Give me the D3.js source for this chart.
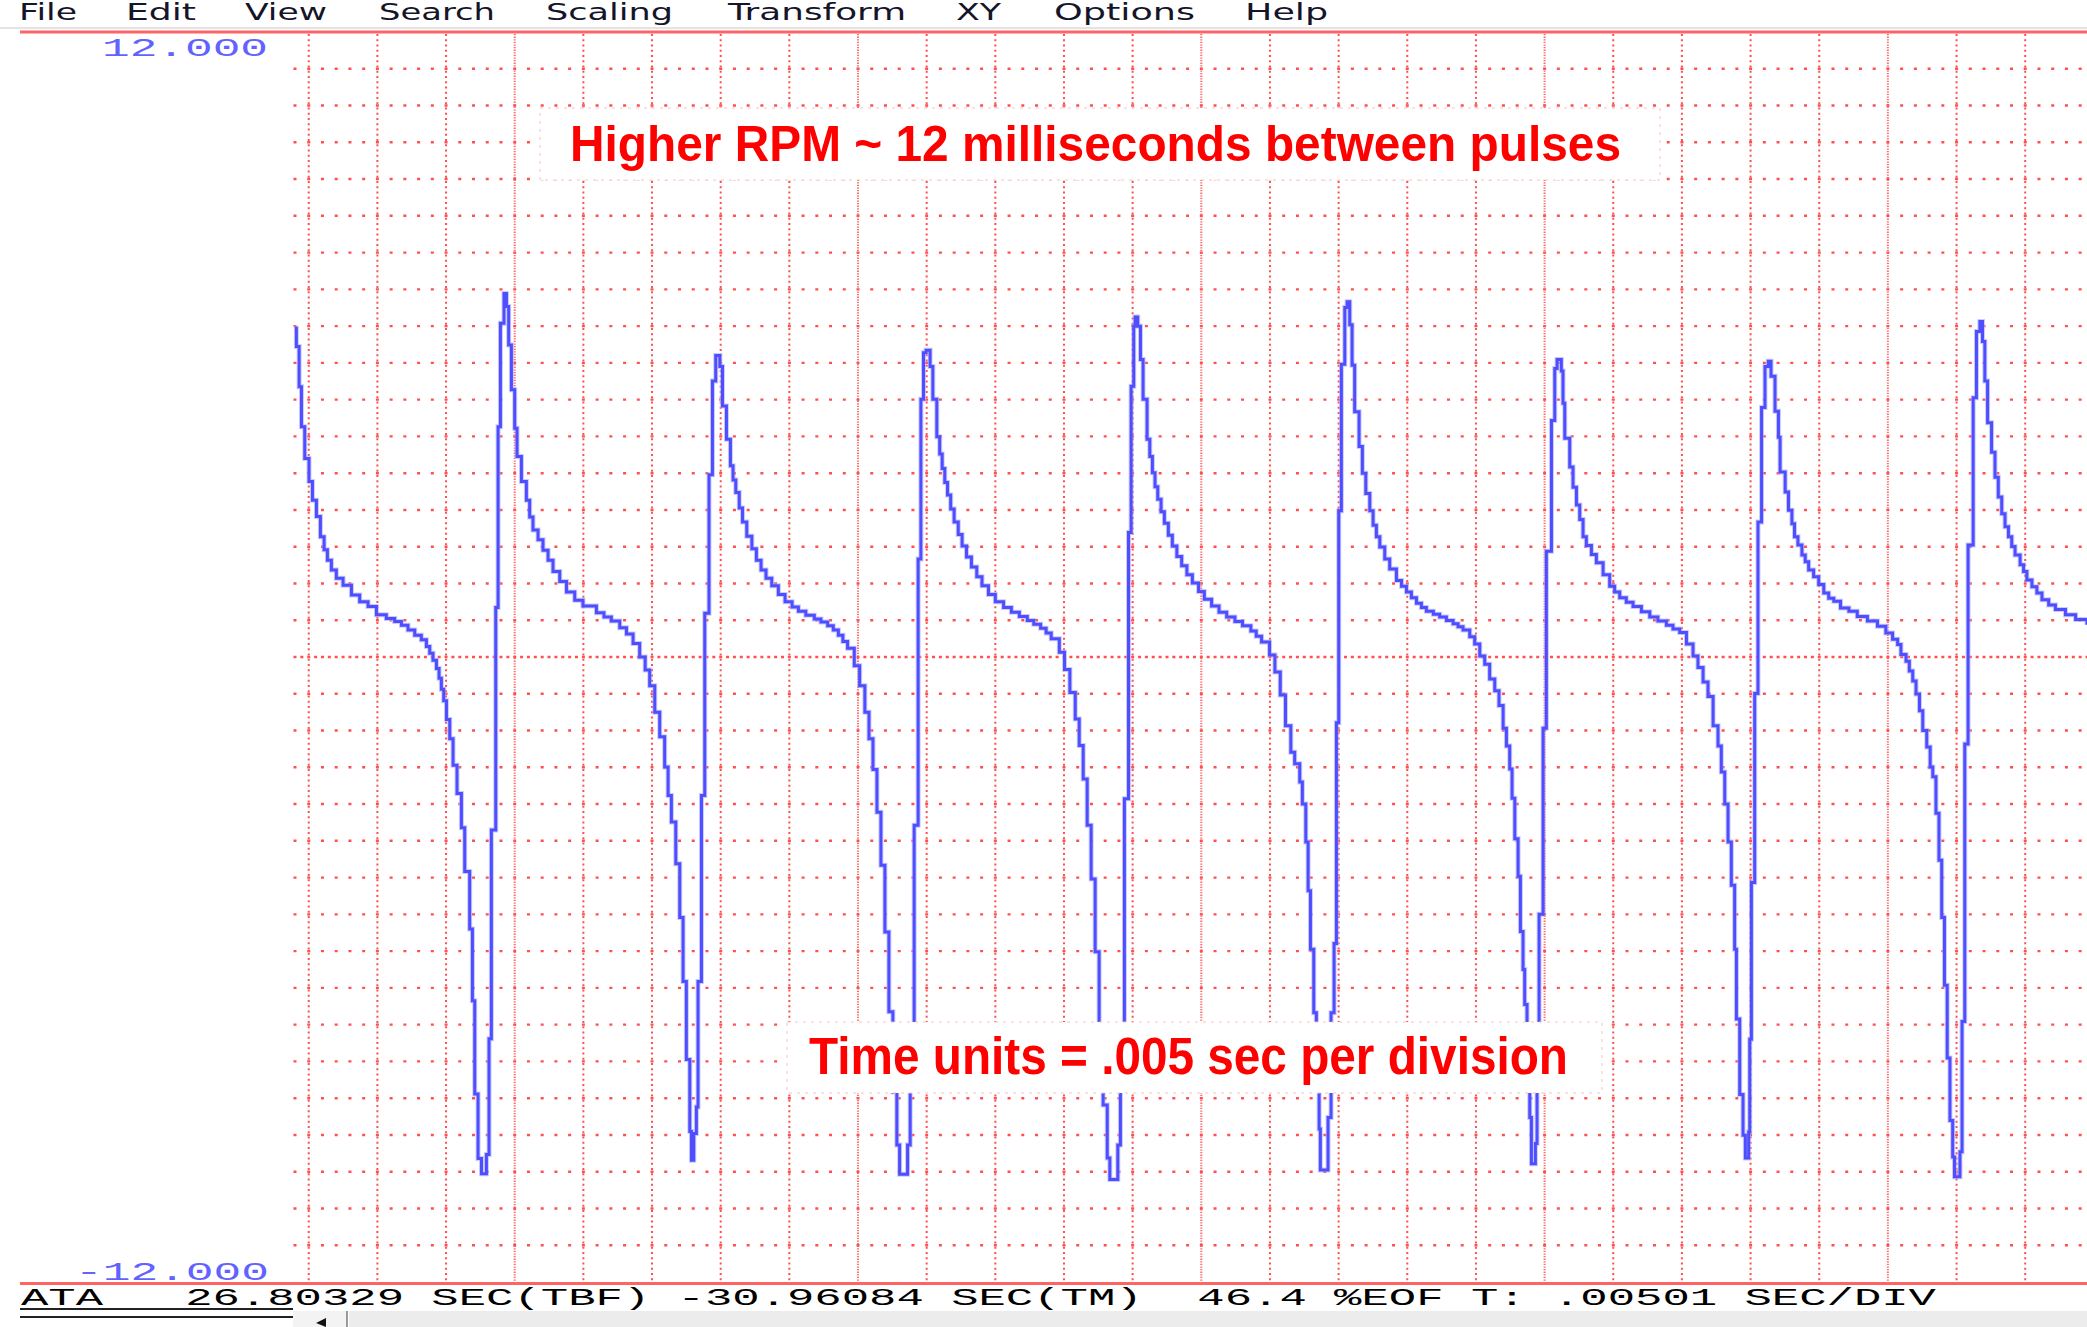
<!DOCTYPE html>
<html><head><meta charset="utf-8">
<script src="https://cdn.jsdelivr.net/npm/d3@7"></script>
<style>
html,body{margin:0;padding:0;background:#fff;overflow:hidden}
svg{display:block}
text{white-space:pre}
</style></head><body>
<svg id="chart" width="2087" height="1327"></svg>
<script>
// ---------------- data ----------------
const menuItems = ["File","Edit","View","Search","Scaling","Transform","XY","Options","Help"];
const yTickLabels = ["12.000","-12.000"];
const yTickValues = [12, -12];
const statusLine = "ATA   26.80329 SEC(TBF) -30.96084 SEC(TM)  46.4 %EOF T: .00501 SEC/DIV";
const annotations = ["Higher RPM ~ 12 milliseconds between pulses","Time units = .005 sec per division"];
const timeDomainMs = [9, 139.5];
const voltDomain = [-12, 12];
const gridStepMs = 5, majorEveryMs = 25, voltDivisions = 34;

// waveform samples (time in ms, volts)
const timeMs = [
 8.98,9.10,9.30,9.47,9.71,10.02,10.27,10.56,10.85,11.12,11.36,11.65,12.01,12.50,13.11,13.71,14.32,14.93,15.65,16.26,16.75,17.23,17.72,18.20,18.57,18.81,19.05,19.30,19.49,19.66,19.83,20.03,20.27,20.51,20.80,21.12,21.36,21.72,21.92,22.09,22.33,22.58,22.94,23.13,23.30,23.62,23.79,23.96,24.22,
 24.40,24.56,24.76,25.00,25.17,25.49,25.85,26.09,26.33,26.70,27.06,27.43,27.79,28.28,28.77,29.37,29.97,30.95,31.50,32.04,32.65,33.14,33.62,34.10,34.50,34.83,35.20,35.56,35.92,36.17,36.41,36.73,37.02,37.26,37.50,37.75,37.87,38.04,38.23,38.35,38.60,38.84,39.15,39.40,39.64,
 39.94,40.13,40.42,40.71,40.90,41.10,41.35,41.59,41.90,42.27,42.60,42.94,43.30,43.72,44.20,44.69,45.20,45.66,46.20,46.82,47.30,47.79,48.20,48.57,48.90,49.24,49.73,50.12,50.50,50.80,51.09,51.38,51.67,51.96,52.25,52.54,52.83,53.03,53.61,53.80,54.09,54.38,54.58,54.77,54.96,
 55.25,55.45,55.74,55.95,56.13,56.32,56.52,56.75,57.00,57.30,57.58,57.90,58.26,58.65,59.03,59.50,60.00,60.60,61.17,61.75,62.33,62.80,63.30,63.70,64.07,64.66,65.04,65.43,65.82,66.11,66.40,66.69,66.98,67.27,67.56,67.85,68.15,68.34,68.92,69.11,69.40,69.70,69.89,70.08,70.18,
 70.37,70.57,70.76,71.05,71.25,71.44,71.63,71.83,72.07,72.31,72.60,72.89,73.22,73.57,73.95,74.35,74.80,75.22,75.75,76.29,76.85,77.45,78.00,78.61,79.00,79.39,79.97,80.36,80.75,81.13,81.52,81.80,82.17,82.36,82.61,82.78,82.95,83.19,83.38,83.58,83.67,84.23,84.45,84.67,84.84,85.01,85.20,85.45,85.62,
 85.81,85.98,86.17,86.49,86.73,86.98,87.27,87.51,87.75,88.00,88.36,88.72,89.21,89.58,89.94,90.30,90.67,91.03,91.39,91.90,92.36,92.85,93.34,93.70,94.06,94.55,94.91,95.28,95.64,96.00,96.37,96.68,96.98,97.22,97.46,97.63,97.83,98.07,98.24,98.43,98.55,98.72,98.92,99.04,99.33,99.45,99.60,99.89,100.13,100.50,100.74,100.91,
 101.22,101.34,101.47,101.83,102.07,102.32,102.56,102.80,103.04,103.41,103.77,104.26,104.74,105.10,105.47,105.95,106.44,107.05,107.66,108.25,108.87,109.35,109.84,110.33,110.81,111.17,111.54,111.90,112.27,112.63,112.87,113.12,113.36,113.60,113.84,113.97,114.21,114.45,114.62,114.86,114.94,115.06,115.30,115.54,115.80,116.05,116.29,
 116.49,116.78,117.03,117.15,117.52,117.76,118.01,118.20,118.45,118.74,118.98,119.23,119.59,119.96,120.33,120.69,121.06,121.55,122.16,122.77,123.51,124.24,124.85,125.34,125.71,125.95,126.32,126.56,126.81,127.05,127.30,127.54,127.83,128.08,128.27,128.50,128.72,128.92,129.12,129.32,129.52,129.72,129.85,130.25,130.40,130.60,130.84,131.21,131.45,131.70,
 131.89,132.06,132.26,132.55,132.80,133.04,133.29,133.53,133.78,134.02,134.26,134.63,134.88,135.12,135.49,135.85,136.22,136.71,137.20,137.93,138.67,139.50
];
const volts = [
 6.31,5.96,5.19,4.42,3.81,3.37,3.01,2.70,2.31,2.06,1.86,1.67,1.51,1.38,1.19,1.06,0.97,0.81,0.74,0.68,0.61,0.52,0.42,0.33,0.20,0.07,-0.06,-0.22,-0.41,-0.62,-0.84,-1.20,-1.57,-2.08,-2.62,-3.28,-4.12,-5.22,-6.60,-8.39,-9.63,-9.92,-9.55,-7.33,-3.32,0.95,4.42,6.41,6.98,
 6.73,5.99,5.13,4.39,3.85,3.37,3.01,2.69,2.44,2.25,2.05,1.86,1.64,1.45,1.25,1.09,0.98,0.85,0.77,0.69,0.56,0.44,0.26,0.00,-0.25,-0.55,-1.06,-1.53,-2.11,-2.66,-3.17,-3.97,-5.00,-6.23,-7.73,-9.11,-9.66,-9.15,-8.64,-6.23,-2.66,0.84,3.50,5.30,5.79,
 5.58,4.82,4.18,3.67,3.40,3.16,2.86,2.59,2.32,2.08,1.86,1.67,1.51,1.37,1.20,1.06,0.96,0.88,0.80,0.73,0.67,0.60,0.52,0.42,0.30,0.17,-0.17,-0.55,-1.06,-1.57,-2.16,-2.98,-4.00,-5.28,-6.81,-8.35,-9.37,-9.93,-9.37,-7.32,-3.23,1.88,4.95,5.84,5.89,
 5.58,4.95,4.23,3.90,3.62,3.35,3.11,2.84,2.59,2.35,2.13,1.92,1.73,1.54,1.37,1.20,1.06,0.95,0.86,0.78,0.70,0.63,0.55,0.46,0.35,0.09,-0.24,-0.68,-1.19,-1.70,-2.34,-3.23,-4.26,-5.66,-7.07,-8.60,-9.62,-10.03,-9.37,-7.32,-2.72,2.39,5.20,6.35,6.53,
 6.35,5.71,4.95,4.18,3.85,3.54,3.27,3.03,2.79,2.57,2.34,2.13,1.93,1.75,1.58,1.42,1.26,1.11,0.98,0.86,0.77,0.68,0.60,0.50,0.40,0.29,0.04,-0.29,-0.73,-1.32,-1.83,-2.05,-2.40,-2.82,-3.55,-4.49,-5.61,-6.83,-8.28,-9.06,-9.85,-8.84,-6.83,-5.50,-1.26,2.81,5.62,6.71,6.82,
 6.38,5.60,4.71,4.04,3.53,3.14,2.81,2.53,2.31,2.11,1.88,1.69,1.47,1.36,1.25,1.14,1.03,0.95,0.88,0.82,0.77,0.70,0.64,0.58,0.52,0.39,0.25,0.02,-0.14,-0.42,-0.65,-0.93,-1.37,-1.71,-2.15,-2.71,-3.49,-4.21,-5.27,-6.00,-6.67,-7.62,-8.84,-9.73,-9.34,-8.17,-4.94,-1.37,2.03,4.54,5.54,5.71,
 5.49,4.87,4.20,3.65,3.26,2.92,2.64,2.31,2.14,1.97,1.81,1.58,1.36,1.25,1.14,1.05,0.97,0.87,0.77,0.69,0.61,0.54,0.47,0.25,0.02,-0.20,-0.48,-0.76,-1.32,-1.71,-2.21,-2.82,-3.55,-4.38,-5.61,-6.95,-8.40,-9.18,-9.62,-9.12,-7.34,-4.33,-0.70,2.59,4.79,5.58,5.68,
 5.39,4.72,4.22,3.55,3.17,2.82,2.56,2.31,2.15,1.96,1.83,1.67,1.54,1.39,1.23,1.13,1.07,0.94,0.88,0.78,0.69,0.59,0.46,0.34,0.24,0.05,-0.08,-0.27,-0.46,-0.71,-1.03,-1.41,-1.73,-2.11,-2.30,-3.00,-3.90,-5.00,-6.30,-7.70,-8.90,-9.60,-9.98,-9.50,-7.00,-1.67,2.15,4.98,6.25,6.44,
 6.06,5.30,4.50,3.93,3.45,3.07,2.75,2.50,2.31,2.12,1.96,1.77,1.64,1.48,1.35,1.23,1.10,1.00,0.91,0.81,0.72,0.62
];

// ---------------- layout ----------------
const W = 2087, H = 1327;
const plotLeft = 295, plotRight = 2087, plotTop = 32, plotBottom = 1282;
const menuLayout = [[19,58],[126,70],[245,82],[379,116],[546,127],[728,178],[956,45],[1054,141],[1245,83]];

const svg = d3.select("#chart");
svg.append("rect").attr("width", W).attr("height", H).attr("fill", "#fff");

const x = d3.scaleLinear().domain(timeDomainMs).range([plotLeft, plotRight]);
const y = d3.scaleLinear().domain(voltDomain).range([plotBottom, plotTop]);

// menu bar
const menu = svg.append("g");
menuItems.forEach((m, i) => {
  menu.append("text").attr("x", menuLayout[i][0]).attr("y", 20)
    .attr("textLength", menuLayout[i][1]).attr("lengthAdjust", "spacingAndGlyphs")
    .attr("font-family", "'DejaVu Sans', 'Noto Sans', sans-serif").attr("font-size", 23)
    .attr("fill", "#15152a").text(m);
});
svg.append("rect").attr("x", 0).attr("y", 27).attr("width", W).attr("height", 2).attr("fill", "#e4e4e4");

// grid
const grid = svg.append("g");
const vTicks = d3.range(10, timeDomainMs[1], gridStepMs);
grid.selectAll("line.v").data(vTicks).join("line")
  .attr("x1", d => x(d)).attr("x2", d => x(d))
  .attr("y1", y(12) + 2).attr("y2", y(-12))
  .attr("stroke", d => d % majorEveryMs === 0 ? "#ff6a6a" : "#ff5050")
  .attr("stroke-width", 2)
  .attr("stroke-dasharray", d => d % majorEveryMs === 0 ? "1.3 1.3" : "2 3.25");

const hLevels = d3.range(1, voltDivisions).map(j => voltDomain[1] - j * (voltDomain[1] - voltDomain[0]) / voltDivisions);
grid.selectAll("line.h").data(hLevels).join("line")
  .attr("x1", x(9) - 1.5).attr("x2", plotRight)
  .attr("y1", d => y(d)).attr("y2", d => y(d))
  .attr("stroke", "#ff5050").attr("stroke-width", 2.4)
  .attr("stroke-dasharray", d => Math.abs(d) < 1e-6 ? "3 3.866" : "3 10.732");

// top / bottom borders
svg.append("line").attr("x1", 20).attr("x2", W).attr("y1", y(12)).attr("y2", y(12))
  .attr("stroke", "#ff6464").attr("stroke-width", 3);
svg.append("line").attr("x1", 20).attr("x2", W).attr("y1", y(-12) + 1.5).attr("y2", y(-12) + 1.5)
  .attr("stroke", "#ff6464").attr("stroke-width", 3);

// y labels
const monoFont = "'Liberation Mono', 'DejaVu Sans Mono', monospace";
svg.append("text").attr("x", 102).attr("y", y(yTickValues[0]) + 24)
  .attr("textLength", 166).attr("lengthAdjust", "spacingAndGlyphs")
  .attr("font-family", monoFont).attr("font-size", 25).attr("fill", "#6262ff").text(yTickLabels[0]);
svg.append("text").attr("x", 75).attr("y", y(yTickValues[1]) - 2)
  .attr("textLength", 194).attr("lengthAdjust", "spacingAndGlyphs")
  .attr("font-family", monoFont).attr("font-size", 25).attr("fill", "#6262ff").text(yTickLabels[1]);

// waveform
const pts = timeMs.map((t, i) => [t, volts[i]]);
const line = d3.line().x(d => x(d[0])).y(d => y(d[1])).curve(d3.curveStepAfter);
svg.append("path").datum(pts).attr("d", line)
  .attr("fill", "none").attr("stroke", "#a8a8ff").attr("stroke-width", 5)
  .attr("stroke-linejoin", "miter").attr("opacity", 0.6);
svg.append("path").datum(pts).attr("d", line)
  .attr("fill", "none").attr("stroke", "#4e4eff").attr("stroke-width", 3)
  .attr("stroke-linejoin", "miter");

// annotation boxes
const boxes = [
  {x: 540, y: 108, w: 1120, h: 72, tx: 570, ty: 161, tl: 1051, fs: 50},
  {x: 787, y: 1022, w: 815, h: 71, tx: 809, ty: 1074, tl: 759, fs: 51}
];
boxes.forEach((b, i) => {
  svg.append("rect").attr("x", b.x).attr("y", b.y).attr("width", b.w).attr("height", b.h)
    .attr("fill", "#fff").attr("stroke", "#f4c4c4").attr("stroke-width", 1).attr("stroke-dasharray", "3 5");
  svg.append("text").attr("x", b.tx).attr("y", b.ty)
    .attr("textLength", b.tl).attr("lengthAdjust", "spacingAndGlyphs")
    .attr("font-family", "'Liberation Sans', Arial, sans-serif").attr("font-weight", "bold")
    .attr("font-size", b.fs).attr("fill", "#ff0000").text(annotations[i]);
});

// status line
svg.append("text").attr("x", 21).attr("y", 1305)
  .attr("textLength", 1915).attr("lengthAdjust", "spacingAndGlyphs")
  .attr("font-family", monoFont).attr("font-size", 23).attr("fill", "#000").text(statusLine);

// scrollbar remnants
svg.append("line").attr("x1", 20).attr("x2", 293).attr("y1", 1309).attr("y2", 1309).attr("stroke", "#222").attr("stroke-width", 2);
svg.append("line").attr("x1", 20).attr("x2", 293).attr("y1", 1317).attr("y2", 1317).attr("stroke", "#222").attr("stroke-width", 2);
svg.append("rect").attr("x", 293).attr("y", 1311).attr("width", 54).attr("height", 16).attr("fill", "#f3f3f3");
svg.append("line").attr("x1", 347).attr("x2", 347).attr("y1", 1311).attr("y2", H).attr("stroke", "#9a9a9a").attr("stroke-width", 2);
svg.append("path").attr("d", "M316,1323 L326,1318 L326,1327 Z").attr("fill", "#111");
svg.append("rect").attr("x", 349).attr("y", 1311).attr("width", W - 349).attr("height", 16).attr("fill", "#ececec");
</script>
</body></html>
